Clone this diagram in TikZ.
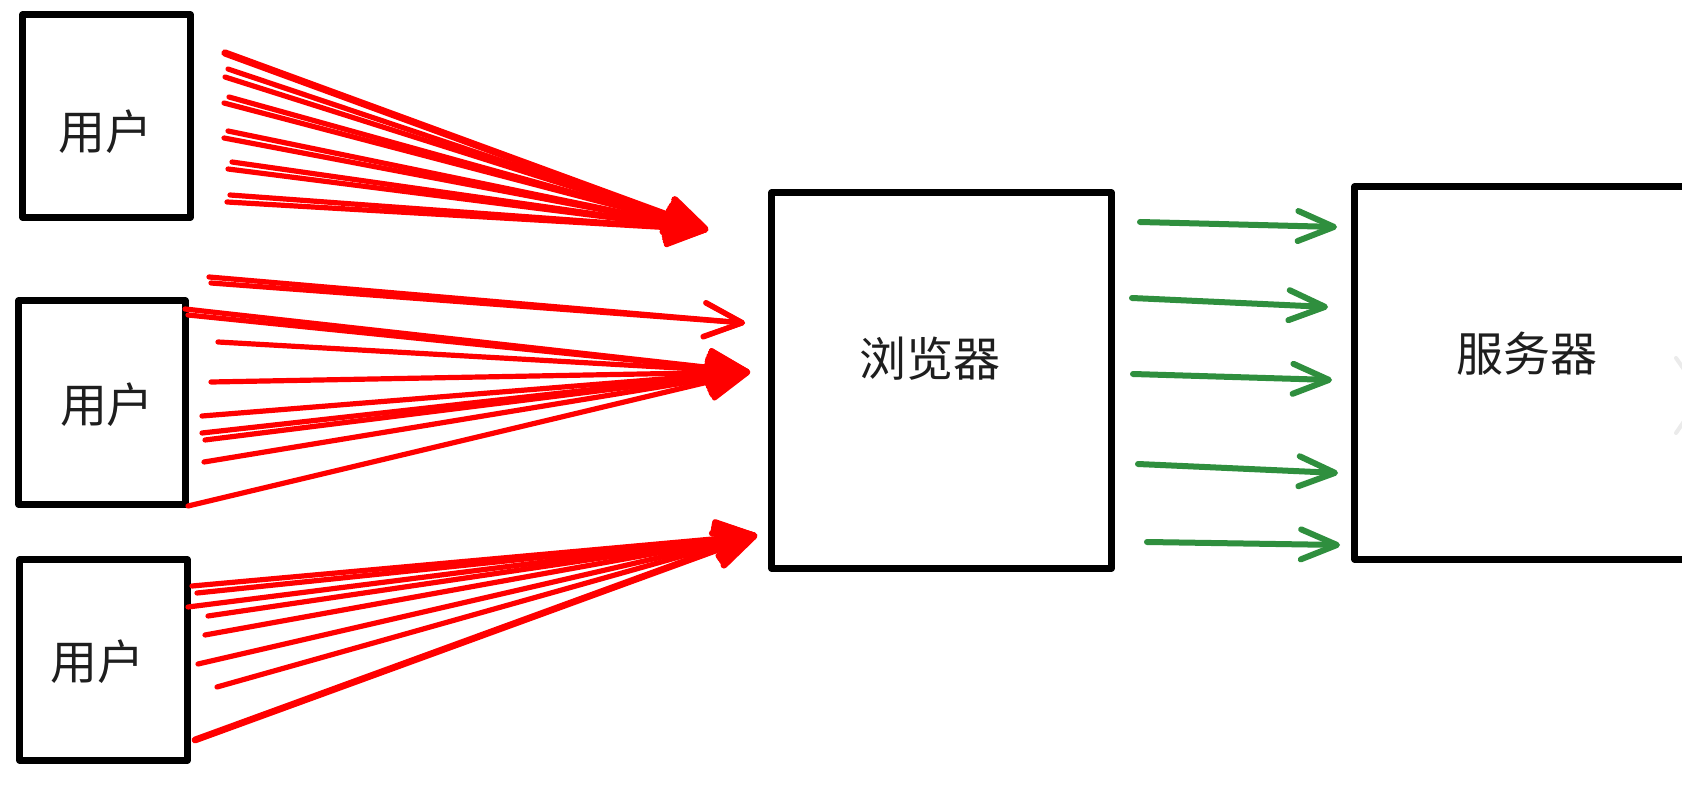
\documentclass[tikz,border=0pt]{standalone}
\usepackage{fontspec}
\setmainfont{Noto Sans CJK SC}
\usepackage{tikz}
\usetikzlibrary{arrows.meta}
\usepackage{xcolor}
\definecolor{reqred}{HTML}{FF0000}
\definecolor{fwdgreen}{HTML}{2F8F3E}
\definecolor{inktext}{HTML}{1E1E1E}
\tikzset{
  skbox/.style    = {draw, line width=3.2pt, inner sep=0pt, line join=round},
  sklbl/.style    = {font=\fontsize{23.5pt}{28pt}\selectfont, inner sep=0pt,
                     text=inktext},
  reqarrow/.style = {draw=reqred, line width=2.6pt, line cap=round,
                     -{Straight Barb[length=19pt,width=17pt,round]}},
  fwdarrow/.style = {draw=fwdgreen, line width=3pt, line cap=round,
                     -{Straight Barb[length=18pt,width=15pt,round]}}
}
\begin{document}
\begin{tikzpicture}[x=0.5pt, y=-0.5pt]
  \clip (0,0) rectangle (1682,786);
  \fill[white] (0,0) rectangle (1682,786);

  % users, browser, server
  \node[skbox, minimum width=84pt, minimum height=101.5pt]  (u1) at (106.5,116) {};
  \node[skbox, minimum width=83.5pt, minimum height=102pt]  (u2) at (102,402.5) {};
  \node[skbox, minimum width=84pt, minimum height=100.5pt]  (u3) at (103.5,660) {};
  \node[skbox, minimum width=170pt, minimum height=188pt]   (br) at (941.5,380.5) {};
  \node[skbox, minimum width=172.5pt, minimum height=186.5pt] (sv) at (1527,373) {};

  \node[sklbl] (l1) at (105,132) {用户};
  \node[sklbl] (l2) at (107,405) {用户};
  \node[sklbl] (l3) at (97,662)  {用户};
  \node[sklbl] (lb) at (930,359) {浏览器};
  \node[sklbl] (ls) at (1527,354) {服务器};

  % requests from the first user
  \coordinate (ha) at (708,230);
  \coordinate (a0) at (225,53);
  \draw[reqarrow, line width=3.6pt] (a0) -- (ha);
  \foreach \x/\y [count=\i] in {228/69, 225/77, 229/97, 224/103, 228/131,
                                224/138, 232/162, 228/169, 230/195, 227/202} {
    \coordinate (a\i) at (\x,\y);
    \draw[reqarrow] (a\i) -- (ha);
  }

  % requests from the second user
  \coordinate (hb) at (745,323);
  \coordinate (b0) at (209,277);
  \coordinate (b00) at (211,283);
  \draw[reqarrow] (b0) -- (hb);
  \draw[reqarrow] (b00) -- (hb);
  \coordinate (hc) at (750,372);
  \foreach \x/\y [count=\i] in {185/309, 188/315, 218/342, 211/382, 202/416,
                                202/433, 205/440, 204/462, 188/506} {
    \coordinate (b\i) at (\x,\y);
    \draw[reqarrow] (b\i) -- (hc);
  }

  % requests from the third user
  \coordinate (hd) at (757,535);
  \foreach \x/\y [count=\i] in {192/586, 197/593, 188/607, 208/616, 205/635,
                                198/664, 217/687} {
    \coordinate (c\i) at (\x,\y);
    \draw[reqarrow] (c\i) -- (hd);
  }
  \coordinate (c8) at (195,740);
  \draw[reqarrow, line width=3.4pt] (c8) -- (hd);

  % browser to server
  \foreach \xa/\ya/\xb/\yb [count=\i] in {1140/222/1337/227, 1132/298/1328/307,
                                          1133/374/1332/380, 1138/464/1338/473,
                                          1147/542/1340/545} {
    \coordinate (g\i) at (\xa,\ya);
    \coordinate (s\i) at (\xb,\yb);
    \draw[fwdarrow] (g\i) -- (s\i);
  }

  \draw[black!8, line width=2pt, line cap=round, line join=round]
    (1676,358) -- (1702,395) -- (1676,433);
\end{tikzpicture}
\end{document}
